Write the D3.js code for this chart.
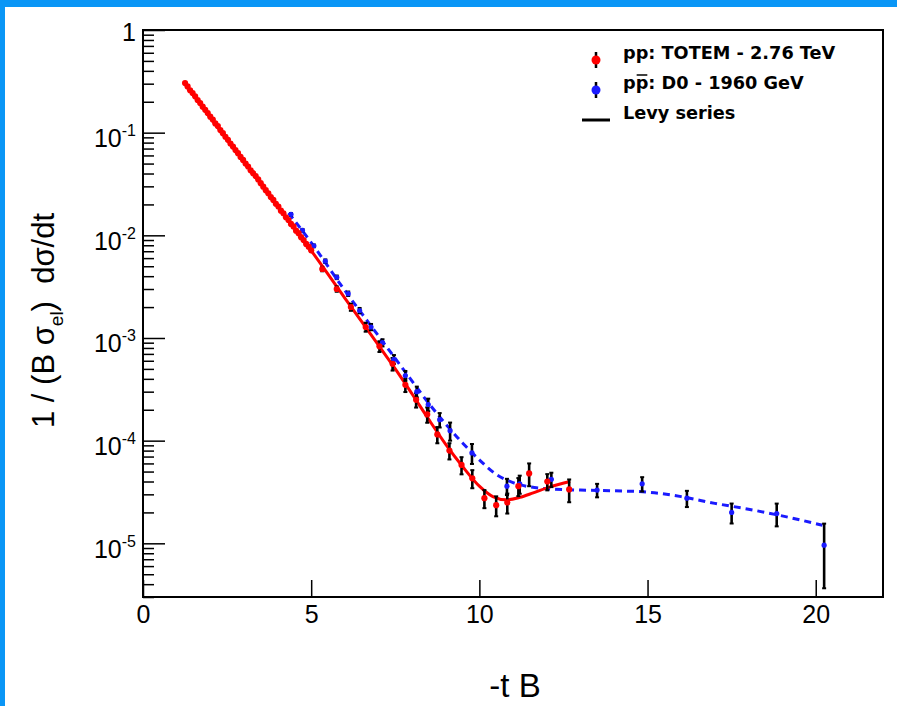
<!DOCTYPE html>
<html>
<head>
<meta charset="utf-8">
<script src="https://cdn.jsdelivr.net/npm/d3@7"></script>
<style>
  body { margin: 0; background: #fff; }
  svg { display: block; }
</style>
</head>
<body>
<div id="chart"></div>
<script>
// TOTEM 2.76 TeV points (-tB, value, relative error)
const totemT = [1.25, 1.325, 1.40, 1.475, 1.55, 1.625, 1.70, 1.775, 1.85, 1.925, 2.00, 2.075, 2.15, 2.225, 2.30, 2.375,
  2.45, 2.525, 2.60, 2.675, 2.75, 2.825, 2.90, 2.975, 3.05, 3.125, 3.20, 3.275, 3.35, 3.425, 3.50, 3.575, 3.65, 3.725,
  3.80, 3.875, 3.95, 4.025, 4.10, 4.175, 4.25, 4.325, 4.40, 4.475, 4.55, 4.625, 4.70, 4.775, 4.85, 4.925, 5.00,
  5.33, 5.76, 6.18, 6.62, 7.03, 7.42, 7.80, 8.12, 8.45, 8.75, 9.11, 9.47, 9.79, 10.15, 10.50, 10.83, 11.16, 11.48, 12.02, 12.67];
const totemY = [0.304, 0.282, 0.259, 0.243, 0.226, 0.208, 0.194, 0.179, 0.167, 0.155, 0.143, 0.134, 0.123, 0.116, 0.106, 0.0988,
  0.0912, 0.0852, 0.0784, 0.0732, 0.0676, 0.0631, 0.0580, 0.0543, 0.0500, 0.0468, 0.0430, 0.0403, 0.0378, 0.0350, 0.0322, 0.0298, 0.0275, 0.0257,
  0.0236, 0.0221, 0.0203, 0.0191, 0.0174, 0.0164, 0.0150, 0.0141, 0.0129, 0.0122, 0.0111, 0.0105, 0.00960, 0.00900, 0.00825, 0.00775, 0.00715,
  4.7e-3, 3.0e-3, 2.0e-3, 1.28e-3, 8.3e-4, 5.6e-4, 3.5e-4, 2.5e-4, 1.8e-4, 1.15e-4, 8.0e-5, 5.8e-5, 4.3e-5, 2.75e-5, 2.35e-5, 2.5e-5, 3.6e-5, 4.8e-5, 4.0e-5, 3.35e-5];
const totemRelErr = [0.02, 0.02, 0.02, 0.02, 0.02, 0.02, 0.02, 0.02, 0.02, 0.02, 0.02, 0.02, 0.02, 0.02, 0.02, 0.02,
  0.02, 0.02, 0.02, 0.02, 0.02, 0.02, 0.02, 0.02, 0.02, 0.02, 0.02, 0.02, 0.02, 0.02, 0.02, 0.02, 0.02, 0.02,
  0.02, 0.02, 0.02, 0.02, 0.02, 0.02, 0.02, 0.02, 0.02, 0.02, 0.02, 0.02, 0.02, 0.02, 0.02, 0.02, 0.03,
  0.05, 0.06, 0.08, 0.10, 0.12, 0.14, 0.15, 0.16, 0.17, 0.18, 0.18, 0.19, 0.20, 0.20, 0.22, 0.22, 0.20, 0.25, 0.18, 0.25];

// D0 1960 GeV points
const d0T = [4.40, 4.74, 5.08, 5.42, 5.76, 6.10, 6.44, 6.78, 7.12, 7.46, 7.80, 8.14, 8.48, 8.82, 9.13, 9.78,
  10.82, 11.20, 12.14, 13.50, 14.84, 16.17, 17.50, 18.84, 20.25];
const d0Y = [0.0160, 0.0112, 0.0079, 0.0056, 0.0039, 0.0027, 0.00185, 0.00128, 9.0e-4, 6.2e-4, 4.3e-4, 3.0e-4, 2.25e-4, 1.6e-4, 1.25e-4, 7.6e-5,
  3.6e-5, 3.8e-5, 4.2e-5, 3.3e-5, 3.8e-5, 2.75e-5, 2.0e-5, 1.95e-5, 9.6e-6];
const d0RelErr = [0.03, 0.03, 0.03, 0.04, 0.04, 0.05, 0.06, 0.07, 0.08, 0.10, 0.11, 0.12, 0.14, 0.16, 0.20, 0.22,
  0.18, 0.20, 0.16, 0.15, 0.16, 0.18, 0.22, 0.25, 0.62];

// Levy series curves
const levyTotemT = [1.25, 2.0, 3.0, 4.0, 5.0, 6.0, 7.0, 7.5, 8.0, 8.5, 9.0, 9.5, 10.0, 10.4, 10.8, 11.2, 11.6, 12.1, 12.7];
const levyTotemY = [0.300, 0.140, 0.0525, 0.0193, 0.0071, 2.45e-3, 8.5e-4, 5.0e-4, 2.85e-4, 1.6e-4, 9.2e-5, 5.6e-5, 3.6e-5, 2.85e-5, 2.65e-5, 2.8e-5, 3.1e-5, 3.55e-5, 4.0e-5];
const levyD0T = [4.33, 5.0, 6.0, 7.0, 8.0, 8.5, 9.0, 9.5, 10.0, 10.5, 11.0, 11.5, 12.0, 13.0, 14.0, 15.0, 16.0, 17.0, 18.0, 19.0, 20.2];
const levyD0Y = [0.0165, 0.0085, 0.0029, 1.05e-3, 3.8e-4, 2.3e-4, 1.45e-4, 9.5e-5, 6.5e-5, 4.7e-5, 3.9e-5, 3.55e-5, 3.4e-5, 3.3e-5, 3.25e-5, 3.15e-5, 2.85e-5, 2.45e-5, 2.15e-5, 1.85e-5, 1.5e-5];

const xTicks = [0, 5, 10, 15, 20];
const yMajorExp = [0, -1, -2, -3, -4, -5];
const legendLabels = ["pp: TOTEM - 2.76 TeV", "pp: D0 - 1960 GeV", "Levy series"];

const width = 897, height = 706;
const plot = {left: 143, right: 883, top: 30, bottom: 597};
const axisFont = "'Liberation Sans', Arial, Helvetica, sans-serif";

const svg = d3.select("#chart").append("svg")
  .attr("width", width).attr("height", height);

svg.append("rect").attr("width", width).attr("height", height).attr("fill", "#fff");
// blue frame of the screenshot
svg.append("rect").attr("x", 0).attr("y", 0).attr("width", width).attr("height", 7).attr("fill", "#0a96f6");
svg.append("rect").attr("x", 0).attr("y", 0).attr("width", 5).attr("height", height).attr("fill", "#0a96f6");

const x = d3.scaleLinear().domain([0, 22]).range([plot.left, plot.right]);
const y = d3.scaleLog().domain([3e-6, 1]).range([plot.bottom, plot.top]);

// x axis
const xAxis = d3.axisBottom(x).tickValues(xTicks).tickSize(-17).tickPadding(8).tickFormat(d3.format("d"));
const gx = svg.append("g").attr("transform", `translate(0,${plot.bottom})`).call(xAxis);
gx.select(".domain").remove();
gx.selectAll(".tick line").attr("stroke", "#000").attr("stroke-width", 1.5);
gx.selectAll(".tick text").attr("font-family", axisFont).attr("font-size", 25).attr("fill", "#000");

// y axis, minor ticks
const minors = [];
for (let k = -6; k < 0; k++) {
  for (let m = 2; m <= 9; m++) {
    const v = m * Math.pow(10, k);
    if (v >= 3e-6 && v <= 1) minors.push(v);
  }
}
const gyMinor = svg.append("g").attr("transform", `translate(${plot.left},0)`)
  .call(d3.axisLeft(y).tickValues(minors).tickSize(-11).tickFormat(""));
gyMinor.select(".domain").remove();
gyMinor.selectAll(".tick line").attr("stroke", "#000").attr("stroke-width", 1.5);

const gy = svg.append("g").attr("transform", `translate(${plot.left},0)`)
  .call(d3.axisLeft(y).tickValues(yMajorExp.map(e => Math.pow(10, e))).tickSize(-22).tickPadding(7).tickFormat(""));
gy.select(".domain").remove();
gy.selectAll(".tick line").attr("stroke", "#000").attr("stroke-width", 1.5);
gy.selectAll(".tick text").each(function(d) {
  const t = d3.select(this)
    .attr("font-family", axisFont).attr("font-size", 25).attr("fill", "#000")
    .attr("dy", null).attr("text-anchor", "end");
  const e = Math.round(Math.log10(d));
  if (e === 0) {
    t.attr("y", 10).text("1");
  } else {
    t.attr("y", 14);
    t.append("tspan").text("10");
    t.append("tspan").attr("dy", -11).attr("font-size", 16).text(String(e));
  }
});

// frame
svg.append("rect")
  .attr("x", plot.left).attr("y", plot.top)
  .attr("width", plot.right - plot.left).attr("height", plot.bottom - plot.top)
  .attr("fill", "none").attr("stroke", "#000").attr("stroke-width", 2);

// axis titles
svg.append("text")
  .attr("x", 515).attr("y", 697)
  .attr("text-anchor", "middle")
  .attr("font-family", axisFont).attr("font-size", 33)
  .text("-t B");

const yTitle = svg.append("text")
  .attr("transform", "translate(54,428) rotate(-90)")
  .attr("font-family", axisFont).attr("font-size", 31)
  .style("white-space", "pre");
yTitle.append("tspan").text("1 / (B σ");
yTitle.append("tspan").attr("dy", 9).attr("font-size", 19).text("el");
yTitle.append("tspan").attr("dy", -9).text(")  dσ/dt");

// curves
const line = d3.line().x(d => x(d[0])).y(d => y(d[1])).curve(d3.curveMonotoneX);
const levyD0 = levyD0T.map((t, i) => [t, levyD0Y[i]]);
const levyTotem = levyTotemT.map((t, i) => [t, levyTotemY[i]]);

svg.append("path").datum(levyD0)
  .attr("d", line).attr("fill", "none")
  .attr("stroke", "#1a1aff").attr("stroke-width", 3).attr("stroke-dasharray", "7,5");
svg.append("path").datum(levyTotem)
  .attr("d", line).attr("fill", "none")
  .attr("stroke", "#ff0000").attr("stroke-width", 3);

const totem = totemT.map((t, i) => ({t, v: totemY[i], e: totemRelErr[i]}));
const d0 = d0T.map((t, i) => ({t, v: d0Y[i], e: d0RelErr[i]}));

// error bars (black)
function errorBars(data, cls) {
  const g = svg.append("g").attr("class", cls);
  const lo = d => y(Math.max(d.v * (1 - d.e), 3e-6));
  const hi = d => y(d.v * (1 + d.e));
  g.selectAll("line.bar").data(data).join("line").attr("class", "bar")
    .attr("x1", d => x(d.t)).attr("x2", d => x(d.t))
    .attr("y1", hi).attr("y2", lo)
    .attr("stroke", "#000").attr("stroke-width", 2.6);
  g.selectAll("line.capTop").data(data).join("line").attr("class", "capTop")
    .attr("x1", d => x(d.t) - 2).attr("x2", d => x(d.t) + 2)
    .attr("y1", hi).attr("y2", hi)
    .attr("stroke", "#000").attr("stroke-width", 2);
  g.selectAll("line.capBot").data(data).join("line").attr("class", "capBot")
    .attr("x1", d => x(d.t) - 2).attr("x2", d => x(d.t) + 2)
    .attr("y1", lo).attr("y2", lo)
    .attr("stroke", "#000").attr("stroke-width", 2);
}
errorBars(d0, "d0-err");
errorBars(totem, "totem-err");

svg.append("g").selectAll("circle").data(d0).join("circle")
  .attr("cx", d => x(d.t)).attr("cy", d => y(d.v)).attr("r", 2.6)
  .attr("fill", "#1a1aff");
svg.append("g").selectAll("circle").data(totem).join("circle")
  .attr("cx", d => x(d.t)).attr("cy", d => y(d.v)).attr("r", 3.1)
  .attr("fill", "#ff0000");

// legend
const legendFont = "'DejaVu Sans', Verdana, sans-serif";
const legendRows = [
  {label: legendLabels[0], color: "#ff0000", type: "marker", y: 60},
  {label: legendLabels[1], color: "#1a1aff", type: "marker", y: 90},
  {label: legendLabels[2], color: "#000", type: "line", y: 120}
];
const lg = svg.append("g");
legendRows.forEach((r, i) => {
  if (r.type === "marker") {
    lg.append("line").attr("x1", 596).attr("x2", 596).attr("y1", r.y - 8).attr("y2", r.y + 8)
      .attr("stroke", "#000").attr("stroke-width", 2.5);
    lg.append("circle").attr("cx", 596).attr("cy", r.y).attr("r", 4.5).attr("fill", r.color);
  } else {
    lg.append("line").attr("x1", 582).attr("x2", 610).attr("y1", r.y).attr("y2", r.y)
      .attr("stroke", "#000").attr("stroke-width", 3);
  }
  const txt = lg.append("text")
    .attr("x", 623).attr("y", r.y - 1)
    .attr("font-family", legendFont).attr("font-weight", "bold").attr("font-size", 17.7)
    .attr("fill", "#000")
    .text(r.label);
  if (i === 1) {
    // antiproton bar over the second p
    const node = txt.node();
    const a = node.getStartPositionOfChar(1), b = node.getEndPositionOfChar(1);
    lg.append("line").attr("x1", a.x + 1).attr("x2", b.x - 1)
      .attr("y1", r.y - 15).attr("y2", r.y - 15)
      .attr("stroke", "#000").attr("stroke-width", 1.5);
  }
});
</script>
</body>
</html>
